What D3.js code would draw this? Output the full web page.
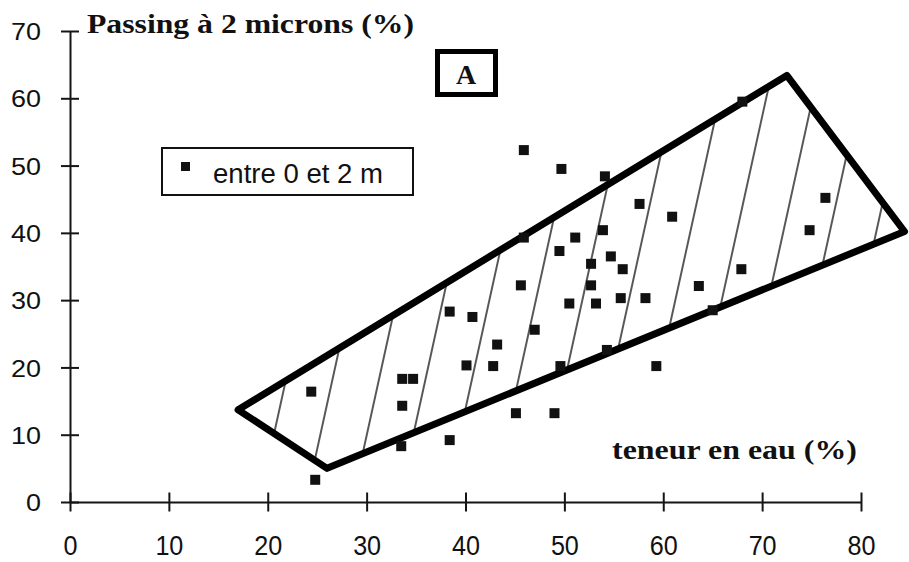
<!DOCTYPE html>
<html>
<head>
<meta charset="utf-8">
<script src="https://cdn.jsdelivr.net/npm/d3@7"></script>
<style>
  html, body { margin: 0; padding: 0; background: #fff; }
  svg { display: block; }
</style>
</head>
<body>
<svg id="chart" width="909" height="562"></svg>
<script>
// water content (%) and passing at 2 microns (%), samples between 0 and 2 m
const waterContent = [24.4, 24.8, 33.6, 34.7, 33.6, 33.5, 38.4, 40.1, 42.8, 43.2,
  45.1, 49.0, 45.9, 49.7, 54.1, 57.6, 60.9, 53.9, 51.1, 45.9,
  49.5, 54.7, 52.7, 55.9, 45.6, 52.7, 63.6, 58.2, 55.7, 50.5,
  53.2, 38.4, 40.7, 47.0, 68.0, 76.4, 74.8, 67.9, 65.0, 54.3,
  49.6, 59.3]
const passing = [16.4, 3.3, 18.3, 18.3, 14.3, 8.3, 9.2, 20.3, 20.2, 23.4,
  13.2, 13.2, 52.3, 49.5, 48.4, 44.3, 42.4, 40.4, 39.3, 39.3,
  37.3, 36.5, 35.4, 34.6, 32.2, 32.2, 32.1, 30.3, 30.3, 29.5,
  29.5, 28.3, 27.5, 25.6, 59.5, 45.2, 40.4, 34.6, 28.5, 22.6,
  20.2, 20.2]

// hatched zone corners
const zoneWater = [17.0, 72.5, 84.4, 26.0]
const zonePassing = [13.7, 63.4, 40.2, 5.0]

const xTicks = [0, 10, 20, 30, 40, 50, 60, 70, 80]
const yTicks = [0, 10, 20, 30, 40, 50, 60, 70]

const svg = d3.select('#chart')

const serif = '"Liberation Serif", "Times New Roman", serif'
const sans = '"Liberation Sans", Arial, sans-serif'

const x = d3.scaleLinear().domain([0, 80]).range([70, 861])
const y = d3.scaleLinear().domain([0, 70]).range([502, 31])

// ------------------
// Hatch pattern
// ------------------
const defs = svg.append('defs')
const hatchGap = 45.4
defs.append('pattern')
  .attr('id', 'hatch')
  .attr('patternUnits', 'userSpaceOnUse')
  .attr('width', hatchGap)
  .attr('height', 20)
  .attr('patternTransform', `translate(${x(40.2)},${y(15.2)}) rotate(12.4) translate(${-hatchGap / 2},0)`)
  .append('line')
  .attr('x1', hatchGap / 2).attr('x2', hatchGap / 2)
  .attr('y1', -2).attr('y2', 22)
  .attr('stroke', '#111')
  .attr('stroke-width', 1.4)

// ------------------
// Axes
// ------------------
const xAxis = svg.append('g')
  .attr('transform', `translate(0,${y(0)})`)
  .call(d3.axisBottom(x).tickValues(xTicks).tickSize(0).tickSizeOuter(0))

xAxis.select('.domain').attr('stroke', '#151515').attr('stroke-width', 2)
xAxis.selectAll('.tick line')
  .attr('y1', -9.5).attr('y2', 9.5)
  .attr('stroke', '#151515').attr('stroke-width', 2)
xAxis.selectAll('.tick text')
  .attr('y', 53).attr('dy', null)
  .attr('fill', '#111')
  .attr('font-family', sans)
  .attr('font-size', 27)
  .attr('textLength', d => String(d).length * 14)
  .attr('lengthAdjust', 'spacingAndGlyphs')

const yAxis = svg.append('g')
  .attr('transform', `translate(${x(0)},0)`)
  .call(d3.axisLeft(y).tickValues(yTicks).tickSize(0).tickSizeOuter(0))

yAxis.select('.domain').attr('stroke', '#151515').attr('stroke-width', 2)
yAxis.selectAll('.tick line')
  .attr('x1', -9).attr('x2', 9)
  .attr('stroke', '#151515').attr('stroke-width', 2)
yAxis.selectAll('.tick text')
  .attr('x', -29).attr('dy', '0.36em')
  .attr('fill', '#111')
  .attr('font-family', sans)
  .attr('font-size', 24)
  .attr('textLength', d => String(d).length * 15)
  .attr('lengthAdjust', 'spacingAndGlyphs')

// ------------------
// Zone
// ------------------
const zone = d3.zip(zoneWater, zonePassing)
const zoneLine = d3.line()
  .x(d => x(d[0]))
  .y(d => y(d[1]))
  .curve(d3.curveLinearClosed)

svg.append('path')
  .attr('d', zoneLine(zone))
  .attr('fill', 'url(#hatch)')
  .attr('stroke', '#000')
  .attr('stroke-width', 7)
  .attr('stroke-linejoin', 'round')

// ------------------
// Points
// ------------------
const pts = d3.zip(waterContent, passing)
svg.selectAll('.pt')
  .data(pts)
  .join('rect')
  .attr('class', 'pt')
  .attr('x', d => x(d[0]) - 5)
  .attr('y', d => y(d[1]) - 5)
  .attr('width', 10)
  .attr('height', 10)
  .attr('fill', '#111')

// ------------------
// Titles
// ------------------
svg.append('text')
  .attr('x', 87).attr('y', 33)
  .attr('font-family', serif)
  .attr('font-weight', 'bold')
  .attr('font-size', 28)
  .attr('textLength', 327)
  .attr('lengthAdjust', 'spacingAndGlyphs')
  .attr('fill', '#111')
  .text('Passing à 2 microns (%)')

svg.append('text')
  .attr('x', 612).attr('y', 459)
  .attr('font-family', serif)
  .attr('font-weight', 'bold')
  .attr('font-size', 28)
  .attr('textLength', 245)
  .attr('lengthAdjust', 'spacingAndGlyphs')
  .attr('fill', '#111')
  .text('teneur en eau (%)')

// panel label
svg.append('rect')
  .attr('x', 437.5).attr('y', 51.5)
  .attr('width', 58).attr('height', 43)
  .attr('fill', '#fff')
  .attr('stroke', '#000')
  .attr('stroke-width', 5)

svg.append('text')
  .attr('x', 466).attr('y', 84)
  .attr('text-anchor', 'middle')
  .attr('font-family', serif)
  .attr('font-weight', 'bold')
  .attr('font-size', 28)
  .attr('fill', '#111')
  .text('A')

// ------------------
// Legend
// ------------------
const legend = svg.append('g').attr('transform', 'translate(162,148)')
legend.append('rect')
  .attr('width', 251).attr('height', 47)
  .attr('fill', '#fff')
  .attr('stroke', '#111')
  .attr('stroke-width', 2)
legend.append('rect')
  .attr('x', 19).attr('y', 14)
  .attr('width', 9).attr('height', 9)
  .attr('fill', '#111')
legend.append('text')
  .attr('x', 51).attr('y', 35)
  .attr('font-family', sans)
  .attr('font-size', 27)
  .attr('textLength', 170)
  .attr('lengthAdjust', 'spacingAndGlyphs')
  .attr('fill', '#111')
  .text('entre 0 et 2 m')
</script>
</body>
</html>
